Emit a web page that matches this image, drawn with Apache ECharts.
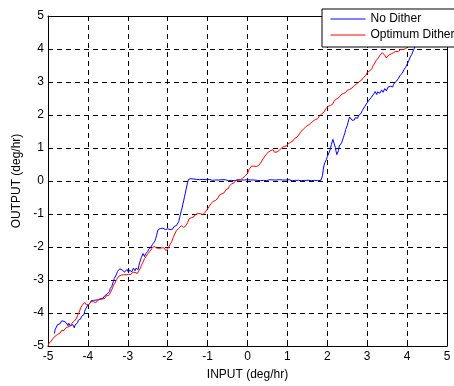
<!DOCTYPE html>
<html>
<head>
<meta charset="utf-8">
<script src="https://cdn.jsdelivr.net/npm/echarts@6/dist/echarts.min.js"></script>
<style>
    html, body { margin: 0; padding: 0; background: #fff; }
    #chart { width: 454px; height: 386px; }
</style>
</head>
<body>
<div id="chart"></div>
<script>
// axis ticks
const xTicks = [-5, -4, -3, -2, -1, 0, 1, 2, 3, 4, 5];
const yTicks = [-5, -4, -3, -2, -1, 0, 1, 2, 3, 4, 5];

// series names
const seriesNames = ['No Dither', 'Optimum Dither'];

// No Dither, [input, output]
const noDither = [
    [-4.84, -4.62], [-4.82, -4.50], [-4.80, -4.47], [-4.78, -4.44], [-4.76, -4.35], [-4.74, -4.30], [-4.72, -4.36], [-4.70, -4.33],
    [-4.68, -4.27], [-4.66, -4.24], [-4.64, -4.28], [-4.62, -4.20], [-4.60, -4.25], [-4.58, -4.29], [-4.56, -4.26], [-4.54, -4.30],
    [-4.52, -4.35], [-4.50, -4.38], [-4.48, -4.31], [-4.46, -4.33], [-4.44, -4.39], [-4.42, -4.42], [-4.40, -4.37], [-4.38, -4.35],
    [-4.36, -4.41], [-4.34, -4.45], [-4.32, -4.36], [-4.30, -4.32], [-4.28, -4.35], [-4.26, -4.30], [-4.24, -4.22], [-4.22, -4.18],
    [-4.20, -4.21], [-4.18, -4.18], [-4.16, -4.10], [-4.14, -4.06], [-4.12, -4.09], [-4.10, -4.05], [-4.08, -3.95], [-4.06, -3.88],
    [-4.04, -3.86], [-4.02, -3.82], [-4.00, -3.76], [-3.98, -3.72], [-3.96, -3.75], [-3.94, -3.70], [-3.92, -3.63], [-3.90, -3.64],
    [-3.88, -3.67], [-3.86, -3.62], [-3.84, -3.65], [-3.82, -3.68], [-3.80, -3.61], [-3.78, -3.59], [-3.76, -3.64], [-3.74, -3.60],
    [-3.72, -3.57], [-3.70, -3.62], [-3.68, -3.56], [-3.66, -3.52], [-3.64, -3.57], [-3.62, -3.55], [-3.60, -3.50], [-3.58, -3.48],
    [-3.56, -3.52], [-3.54, -3.48], [-3.52, -3.43], [-3.50, -3.40], [-3.48, -3.37], [-3.46, -3.35], [-3.44, -3.26], [-3.42, -3.22],
    [-3.40, -3.19], [-3.38, -3.15], [-3.36, -3.04], [-3.34, -2.96], [-3.32, -2.99], [-3.30, -2.94], [-3.28, -2.82], [-3.26, -2.74],
    [-3.24, -2.79], [-3.22, -2.75], [-3.20, -2.66], [-3.18, -2.62], [-3.16, -2.67], [-3.14, -2.70], [-3.12, -2.65], [-3.10, -2.72],
    [-3.08, -2.76], [-3.06, -2.80], [-3.04, -2.73], [-3.02, -2.68], [-3.00, -2.72], [-2.98, -2.77], [-2.96, -2.70], [-2.94, -2.66],
    [-2.92, -2.71], [-2.90, -2.75], [-2.88, -2.69], [-2.86, -2.64], [-2.84, -2.68], [-2.82, -2.72], [-2.80, -2.65], [-2.78, -2.60],
    [-2.76, -2.64], [-2.74, -2.68], [-2.72, -2.55], [-2.70, -2.46], [-2.68, -2.40], [-2.66, -2.32], [-2.64, -2.27], [-2.62, -2.20],
    [-2.60, -2.24], [-2.58, -2.29], [-2.56, -2.21], [-2.54, -2.16], [-2.52, -2.19], [-2.50, -2.14], [-2.48, -2.07], [-2.46, -2.03],
    [-2.44, -2.06], [-2.42, -2.00], [-2.40, -1.95], [-2.38, -1.92], [-2.36, -1.94], [-2.34, -1.88], [-2.32, -1.82], [-2.30, -1.74],
    [-2.28, -1.66], [-2.26, -1.55], [-2.24, -1.47], [-2.22, -1.42], [-2.20, -1.45], [-2.18, -1.44], [-2.16, -1.40], [-2.14, -1.46],
    [-2.12, -1.43], [-2.10, -1.39], [-2.08, -1.44], [-2.06, -1.47], [-2.04, -1.44], [-2.02, -1.48], [-2.00, -1.45], [-1.98, -1.41],
    [-1.96, -1.44], [-1.94, -1.47], [-1.92, -1.42], [-1.90, -1.43], [-1.88, -1.46], [-1.86, -1.41], [-1.84, -1.38], [-1.82, -1.44],
    [-1.80, -1.40], [-1.78, -1.35], [-1.76, -1.37], [-1.74, -1.30], [-1.72, -1.22], [-1.70, -1.10], [-1.68, -1.01], [-1.66, -0.90],
    [-1.64, -0.82], [-1.62, -0.70], [-1.60, -0.60], [-1.58, -0.48], [-1.56, -0.38], [-1.54, -0.26], [-1.52, -0.15], [-1.50, -0.04],
    [-1.48, 0.05], [-1.46, 0.08], [-1.44, 0.04], [-1.42, 0.07], [-1.40, 0.05], [-1.37, 0.03], [-1.34, 0.06], [-1.31, 0.03],
    [-1.28, 0.05], [-1.24, 0.02], [-1.20, 0.04], [-1.16, 0.02], [-1.12, 0.05], [-1.08, 0.03], [-1.04, 0.04], [-1.00, 0.02],
    [-0.96, 0.05], [-0.92, 0.03], [-0.88, 0.02], [-0.84, 0.04], [-0.80, 0.03], [-0.76, 0.01], [-0.72, 0.03], [-0.68, 0.02],
    [-0.64, 0.04], [-0.60, 0.02], [-0.56, 0.04], [-0.52, 0.03], [-0.48, 0.01], [-0.44, 0.03], [-0.40, 0.02], [-0.36, 0.04],
    [-0.32, 0.01], [-0.28, 0.03], [-0.24, 0.04], [-0.20, 0.02], [-0.16, 0.03], [-0.12, 0.05], [-0.08, 0.03], [-0.04, 0.02],
    [0.00, 0.04], [0.04, 0.02], [0.08, 0.03], [0.12, 0.01], [0.16, 0.03], [0.20, 0.04], [0.24, 0.02], [0.28, 0.03],
    [0.32, 0.01], [0.36, 0.04], [0.40, 0.02], [0.44, 0.03], [0.48, 0.01], [0.52, 0.03], [0.56, 0.04], [0.60, 0.02],
    [0.64, 0.03], [0.68, 0.01], [0.72, 0.03], [0.76, 0.02], [0.80, 0.04], [0.84, 0.02], [0.88, 0.03], [0.92, 0.01],
    [0.96, 0.03], [1.00, 0.02], [1.04, 0.04], [1.08, 0.02], [1.12, 0.01], [1.16, 0.03], [1.20, 0.02], [1.24, 0.04],
    [1.28, 0.02], [1.32, 0.03], [1.36, 0.01], [1.40, 0.03], [1.44, 0.02], [1.48, 0.04], [1.52, 0.02], [1.56, 0.03],
    [1.60, 0.01], [1.64, 0.03], [1.68, 0.02], [1.72, 0.03], [1.76, 0.01], [1.80, 0.03], [1.84, 0.02], [1.86, 0.06],
    [1.88, 0.16], [1.90, 0.36], [1.92, 0.48], [1.94, 0.56], [1.96, 0.62], [1.98, 0.66], [2.00, 0.74], [2.02, 0.78],
    [2.04, 0.85], [2.06, 0.88], [2.08, 0.98], [2.10, 1.10], [2.12, 1.18], [2.14, 1.26], [2.16, 1.30], [2.18, 1.20],
    [2.20, 1.02], [2.22, 0.90], [2.24, 0.80], [2.26, 0.84], [2.28, 0.92], [2.30, 1.06], [2.32, 1.12], [2.34, 1.08],
    [2.36, 1.16], [2.38, 1.22], [2.40, 1.31], [2.42, 1.38], [2.44, 1.45], [2.46, 1.56], [2.48, 1.62], [2.50, 1.68],
    [2.52, 1.78], [2.54, 1.87], [2.56, 1.94], [2.58, 1.99], [2.60, 1.88], [2.62, 1.84], [2.64, 1.82], [2.66, 1.88],
    [2.68, 1.85], [2.70, 1.92], [2.72, 1.96], [2.74, 1.88], [2.76, 1.90], [2.78, 1.98], [2.80, 2.03], [2.82, 1.99],
    [2.84, 2.04], [2.86, 2.10], [2.88, 2.14], [2.90, 2.12], [2.92, 2.18], [2.94, 2.26], [2.96, 2.32], [2.98, 2.30],
    [3.00, 2.37], [3.02, 2.41], [3.04, 2.44], [3.06, 2.40], [3.08, 2.49], [3.10, 2.53], [3.12, 2.57], [3.14, 2.55],
    [3.16, 2.63], [3.18, 2.68], [3.20, 2.71], [3.22, 2.66], [3.24, 2.62], [3.26, 2.70], [3.28, 2.74], [3.30, 2.70],
    [3.32, 2.66], [3.34, 2.72], [3.36, 2.76], [3.38, 2.73], [3.40, 2.69], [3.42, 2.75], [3.44, 2.80], [3.46, 2.77],
    [3.48, 2.73], [3.50, 2.79], [3.52, 2.84], [3.54, 2.81], [3.56, 2.79], [3.58, 2.87], [3.60, 2.92], [3.62, 2.88],
    [3.64, 2.85], [3.66, 2.93], [3.68, 2.99], [3.70, 2.96], [3.72, 3.01], [3.74, 3.05], [3.76, 3.07], [3.78, 3.10],
    [3.80, 3.14], [3.82, 3.19], [3.84, 3.22], [3.86, 3.24], [3.88, 3.27], [3.90, 3.33], [3.92, 3.37], [3.94, 3.40],
    [3.96, 3.44], [3.98, 3.50], [4.00, 3.54], [4.02, 3.58], [4.04, 3.64], [4.06, 3.70], [4.08, 3.76], [4.10, 3.80],
    [4.12, 3.84], [4.14, 3.90], [4.16, 3.97], [4.18, 4.02], [4.20, 4.07], [4.22, 4.11], [4.24, 4.15]
];

// Optimum Dither, [input, output]
const optimumDither = [
    [-5.00, -5.00], [-4.98, -4.93], [-4.96, -4.89], [-4.94, -4.88], [-4.92, -4.85], [-4.90, -4.80], [-4.88, -4.78], [-4.86, -4.79],
    [-4.84, -4.75], [-4.82, -4.70], [-4.80, -4.68], [-4.78, -4.69], [-4.76, -4.65], [-4.74, -4.60], [-4.72, -4.60], [-4.70, -4.61],
    [-4.68, -4.57], [-4.66, -4.53], [-4.64, -4.52], [-4.62, -4.55], [-4.60, -4.53], [-4.58, -4.48], [-4.56, -4.46], [-4.54, -4.49],
    [-4.52, -4.47], [-4.50, -4.42], [-4.48, -4.40], [-4.46, -4.43], [-4.44, -4.39], [-4.42, -4.34], [-4.40, -4.31], [-4.38, -4.34],
    [-4.36, -4.31], [-4.34, -4.24], [-4.32, -4.20], [-4.30, -4.19], [-4.28, -4.15], [-4.26, -4.07], [-4.24, -4.02], [-4.22, -3.98],
    [-4.20, -3.93], [-4.18, -3.84], [-4.16, -3.78], [-4.14, -3.76], [-4.12, -3.73], [-4.10, -3.70], [-4.08, -3.68], [-4.06, -3.72],
    [-4.04, -3.75], [-4.02, -3.71], [-4.00, -3.69], [-3.98, -3.74], [-3.96, -3.73], [-3.94, -3.68], [-3.92, -3.66], [-3.90, -3.70],
    [-3.88, -3.71], [-3.86, -3.66], [-3.84, -3.65], [-3.82, -3.70], [-3.80, -3.69], [-3.78, -3.64], [-3.76, -3.62], [-3.74, -3.66],
    [-3.72, -3.64], [-3.70, -3.59], [-3.68, -3.58], [-3.66, -3.61], [-3.64, -3.58], [-3.62, -3.53], [-3.60, -3.53], [-3.58, -3.56],
    [-3.56, -3.53], [-3.54, -3.48], [-3.52, -3.48], [-3.50, -3.50], [-3.48, -3.47], [-3.46, -3.42], [-3.44, -3.39], [-3.42, -3.37],
    [-3.40, -3.33], [-3.38, -3.24], [-3.36, -3.17], [-3.34, -3.14], [-3.32, -3.09], [-3.30, -3.03], [-3.28, -2.98], [-3.26, -2.97],
    [-3.24, -2.93], [-3.22, -2.88], [-3.20, -2.86], [-3.18, -2.88], [-3.16, -2.85], [-3.14, -2.80], [-3.12, -2.80], [-3.10, -2.84],
    [-3.08, -2.82], [-3.06, -2.86], [-3.04, -2.84], [-3.02, -2.79], [-3.00, -2.78], [-2.98, -2.83], [-2.96, -2.80], [-2.94, -2.78],
    [-2.92, -2.83], [-2.90, -2.80], [-2.88, -2.76], [-2.86, -2.79], [-2.84, -2.81], [-2.82, -2.77], [-2.80, -2.75], [-2.78, -2.78],
    [-2.76, -2.80], [-2.74, -2.76], [-2.72, -2.71], [-2.70, -2.67], [-2.68, -2.63], [-2.66, -2.56], [-2.64, -2.50], [-2.62, -2.46],
    [-2.60, -2.41], [-2.58, -2.35], [-2.56, -2.31], [-2.54, -2.28], [-2.52, -2.25], [-2.50, -2.20], [-2.48, -2.17], [-2.46, -2.16],
    [-2.44, -2.13], [-2.42, -2.07], [-2.40, -2.04], [-2.38, -2.05], [-2.36, -2.01], [-2.34, -1.98], [-2.32, -1.97], [-2.30, -2.01],
    [-2.28, -2.03], [-2.26, -1.98], [-2.24, -1.99], [-2.22, -2.04], [-2.20, -2.06], [-2.18, -2.01], [-2.16, -2.03], [-2.14, -2.06],
    [-2.12, -2.03], [-2.10, -2.02], [-2.08, -2.05], [-2.06, -2.08], [-2.04, -2.11], [-2.02, -2.09], [-2.00, -2.07], [-1.98, -2.02],
    [-1.96, -1.99], [-1.94, -1.92], [-1.92, -1.87], [-1.90, -1.84], [-1.88, -1.79], [-1.86, -1.71], [-1.84, -1.65], [-1.82, -1.60],
    [-1.80, -1.56], [-1.78, -1.50], [-1.76, -1.47], [-1.74, -1.46], [-1.72, -1.43], [-1.70, -1.38], [-1.68, -1.37], [-1.66, -1.35],
    [-1.64, -1.33], [-1.62, -1.38], [-1.60, -1.41], [-1.58, -1.38], [-1.56, -1.42], [-1.54, -1.35], [-1.52, -1.29], [-1.50, -1.26],
    [-1.48, -1.21], [-1.46, -1.14], [-1.44, -1.11], [-1.42, -1.13], [-1.40, -1.11], [-1.38, -1.06], [-1.36, -1.05], [-1.34, -1.08],
    [-1.32, -1.05], [-1.30, -1.01], [-1.28, -1.01], [-1.26, -1.03], [-1.24, -0.99], [-1.22, -0.94], [-1.20, -0.95], [-1.18, -0.99],
    [-1.16, -1.01], [-1.14, -0.98], [-1.12, -1.02], [-1.10, -1.00], [-1.08, -0.97], [-1.06, -0.95], [-1.04, -0.93], [-1.02, -0.88],
    [-1.00, -0.85], [-0.98, -0.82], [-0.96, -0.77], [-0.94, -0.71], [-0.92, -0.69], [-0.90, -0.70], [-0.88, -0.67], [-0.86, -0.62],
    [-0.84, -0.61], [-0.82, -0.62], [-0.80, -0.59], [-0.78, -0.55], [-0.76, -0.53], [-0.74, -0.51], [-0.72, -0.47], [-0.70, -0.42],
    [-0.68, -0.39], [-0.66, -0.41], [-0.64, -0.39], [-0.62, -0.34], [-0.60, -0.33], [-0.58, -0.35], [-0.56, -0.31], [-0.54, -0.26],
    [-0.52, -0.27], [-0.50, -0.25], [-0.48, -0.23], [-0.46, -0.16], [-0.44, -0.11], [-0.42, -0.12], [-0.40, -0.09], [-0.38, -0.04],
    [-0.36, -0.05], [-0.34, -0.06], [-0.32, -0.03], [-0.30, 0.01], [-0.28, 0.01], [-0.26, -0.01], [-0.24, 0.02], [-0.22, 0.06],
    [-0.20, 0.06], [-0.18, 0.03], [-0.16, 0.05], [-0.14, 0.08], [-0.12, 0.09], [-0.10, 0.08], [-0.08, 0.11], [-0.06, 0.15],
    [-0.04, 0.19], [-0.02, 0.20], [0.00, 0.23], [0.02, 0.29], [0.04, 0.35], [0.06, 0.38], [0.08, 0.41], [0.10, 0.45],
    [0.12, 0.45], [0.14, 0.42], [0.16, 0.45], [0.18, 0.47], [0.20, 0.43], [0.22, 0.44], [0.24, 0.47], [0.26, 0.50],
    [0.28, 0.47], [0.30, 0.49], [0.32, 0.53], [0.34, 0.57], [0.36, 0.59], [0.38, 0.63], [0.40, 0.69], [0.42, 0.71],
    [0.44, 0.75], [0.46, 0.80], [0.48, 0.83], [0.50, 0.82], [0.52, 0.87], [0.54, 0.91], [0.56, 0.93], [0.58, 0.92],
    [0.60, 0.89], [0.62, 0.92], [0.64, 0.95], [0.66, 0.90], [0.68, 0.87], [0.70, 0.89], [0.72, 0.91], [0.74, 0.88],
    [0.76, 0.85], [0.78, 0.89], [0.80, 0.93], [0.82, 0.95], [0.84, 0.97], [0.86, 1.01], [0.88, 1.03], [0.90, 1.02],
    [0.92, 1.05], [0.94, 1.07], [0.96, 1.04], [0.98, 1.06], [1.00, 1.09], [1.02, 1.13], [1.04, 1.11], [1.06, 1.14],
    [1.08, 1.17], [1.10, 1.21], [1.12, 1.19], [1.14, 1.22], [1.16, 1.25], [1.18, 1.29], [1.20, 1.27], [1.22, 1.30],
    [1.24, 1.33], [1.26, 1.38], [1.28, 1.37], [1.30, 1.42], [1.32, 1.47], [1.34, 1.50], [1.36, 1.51], [1.38, 1.55],
    [1.40, 1.57], [1.42, 1.56], [1.44, 1.59], [1.46, 1.64], [1.48, 1.67], [1.50, 1.66], [1.52, 1.69], [1.54, 1.73],
    [1.56, 1.75], [1.58, 1.74], [1.60, 1.77], [1.62, 1.80], [1.64, 1.81], [1.66, 1.80], [1.68, 1.83], [1.70, 1.86],
    [1.72, 1.87], [1.74, 1.86], [1.76, 1.89], [1.78, 1.94], [1.80, 1.97], [1.82, 1.96], [1.84, 1.99], [1.86, 2.03],
    [1.88, 2.05], [1.90, 2.04], [1.92, 2.09], [1.94, 2.14], [1.96, 2.19], [1.98, 2.20], [2.00, 2.23], [2.02, 2.26],
    [2.04, 2.27], [2.06, 2.26], [2.08, 2.29], [2.10, 2.33], [2.12, 2.35], [2.14, 2.34], [2.16, 2.39], [2.18, 2.44],
    [2.20, 2.47], [2.22, 2.46], [2.24, 2.49], [2.26, 2.53], [2.28, 2.55], [2.30, 2.54], [2.32, 2.57], [2.34, 2.61],
    [2.36, 2.63], [2.38, 2.62], [2.40, 2.65], [2.42, 2.68], [2.44, 2.69], [2.46, 2.68], [2.48, 2.71], [2.50, 2.75],
    [2.52, 2.77], [2.54, 2.74], [2.56, 2.77], [2.58, 2.81], [2.60, 2.83], [2.62, 2.82], [2.64, 2.85], [2.66, 2.88],
    [2.68, 2.89], [2.70, 2.87], [2.72, 2.91], [2.74, 2.95], [2.76, 2.97], [2.78, 2.98], [2.80, 3.01], [2.82, 3.05],
    [2.84, 3.07], [2.86, 3.06], [2.88, 3.09], [2.90, 3.13], [2.92, 3.15], [2.94, 3.16], [2.96, 3.19], [2.98, 3.25],
    [3.00, 3.29], [3.02, 3.27], [3.04, 3.29], [3.06, 3.33], [3.08, 3.35], [3.10, 3.37], [3.12, 3.41], [3.14, 3.48],
    [3.16, 3.53], [3.18, 3.55], [3.20, 3.59], [3.22, 3.64], [3.24, 3.67], [3.26, 3.69], [3.28, 3.73], [3.30, 3.78],
    [3.32, 3.81], [3.34, 3.82], [3.36, 3.85], [3.38, 3.89], [3.40, 3.91], [3.42, 3.86], [3.44, 3.81], [3.46, 3.76],
    [3.48, 3.73], [3.50, 3.74], [3.52, 3.77], [3.54, 3.82], [3.56, 3.85], [3.58, 3.83], [3.60, 3.85], [3.62, 3.89],
    [3.64, 3.91], [3.66, 3.89], [3.68, 3.87], [3.70, 3.90], [3.72, 3.93], [3.74, 3.96], [3.76, 3.95], [3.78, 3.92],
    [3.80, 3.91], [3.82, 3.95], [3.84, 3.99], [3.86, 3.97], [3.88, 3.95], [3.90, 3.98], [3.92, 4.01], [3.94, 4.03],
    [3.96, 4.01], [3.98, 4.04], [4.00, 4.07], [4.02, 4.06], [4.04, 4.09], [4.06, 4.13], [4.08, 4.15]
];

const FONT = 'Liberation Sans';
const FONT_SIZE = 12;

function axisBase(pos, ticks, showLabel) {
    return {
        type: 'value',
        position: pos,
        min: ticks[0],
        max: ticks[ticks.length - 1],
        interval: 1,
        axisLine: { show: true, onZero: false, lineStyle: { color: '#000', width: 1 } },
        axisTick: { show: true, inside: true, length: 4, lineStyle: { color: '#000' } },
        axisLabel: {
            show: showLabel,
            color: '#000',
            fontFamily: FONT,
            fontSize: FONT_SIZE
        },
        splitLine: { show: false }
    };
}

const xMain = axisBase('bottom', xTicks, true);
xMain.axisLabel.margin = 5;
xMain.name = 'INPUT (deg/hr)';
xMain.nameLocation = 'middle';
xMain.nameGap = 23;
xMain.nameTextStyle = { color: '#000', fontFamily: FONT, fontSize: FONT_SIZE };
xMain.splitLine = { show: true, lineStyle: { color: '#000', type: [5, 4], width: 1 } };

const yMain = axisBase('left', yTicks, true);
yMain.axisLabel.margin = 4;
yMain.name = 'OUTPUT (deg/hr)';
yMain.nameLocation = 'middle';
yMain.nameGap = 18;
yMain.nameTextStyle = { color: '#000', fontFamily: FONT, fontSize: FONT_SIZE };
yMain.splitLine = { show: true, lineStyle: { color: '#000', type: [5, 4], width: 1 } };

const option = {
    animation: false,
    backgroundColor: '#fff',
    color: ['#0000ff', '#ff0000'],
    grid: { left: 48, right: 7, top: 16, bottom: 35, containLabel: false },
    legend: {
        data: seriesNames,
        orient: 'vertical',
        left: 322,
        top: 9,
        itemWidth: 35,
        itemHeight: 14,
        itemGap: 4,
        padding: [4, 0, 6, 8],
        backgroundColor: '#fff',
        borderColor: '#000',
        borderWidth: 1,
        borderRadius: 0,
        itemStyle: { opacity: 0 },
        lineStyle: { width: 1 },
        textStyle: { color: '#000', fontFamily: FONT, fontSize: FONT_SIZE },
        z: 10
    },
    xAxis: [xMain, axisBase('top', xTicks, false)],
    yAxis: [yMain, axisBase('right', yTicks, false)],
    series: [
        {
            name: seriesNames[0],
            type: 'line',
            data: noDither,
            symbol: 'none',
            lineStyle: { width: 1 },
            z: 2
        },
        {
            name: seriesNames[1],
            type: 'line',
            data: optimumDither,
            symbol: 'none',
            lineStyle: { width: 1 },
            z: 3
        }
    ]
};

const myChart = echarts.init(document.querySelector('#chart'));
myChart.setOption(option);
</script>
</body>
</html>
